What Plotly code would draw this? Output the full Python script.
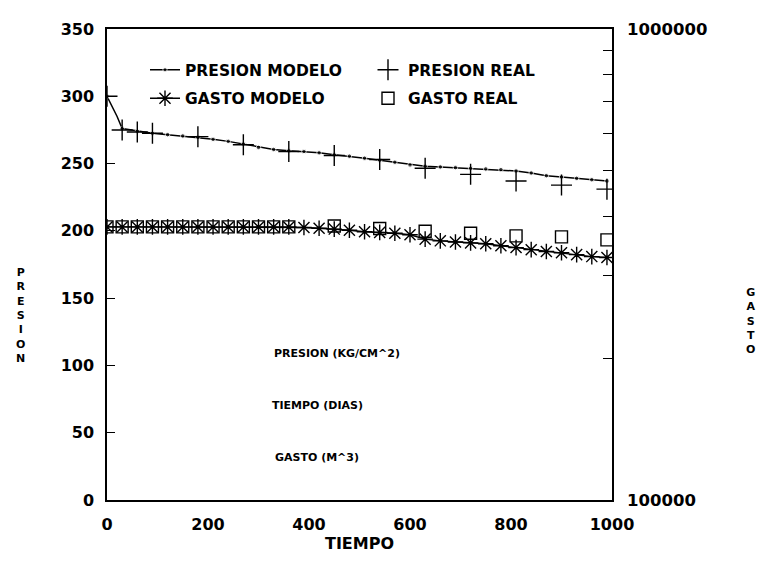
import plotly.graph_objects as go

# ---------------- data ----------------
t_model = [0, 10, 20, 30, 60, 90, 120, 150, 180, 210, 240, 270, 300, 330, 360, 390, 420,
           450, 480, 510, 540, 570, 600, 630, 660, 690, 720, 750, 780, 810, 840, 870,
           900, 930, 960, 990]
presion_modelo = [300, 292.5, 285, 276, 274, 272.5, 271.5, 270.5, 269.5, 268, 266.5, 264.5,
                  262, 260.5, 259.5, 259, 258, 256.5, 255.5, 254, 252.5, 251, 249, 248,
                  247.5, 247, 246.5, 246, 245.5, 244.5, 243, 241, 240, 239, 238, 237]

t_presion_real = [0, 30, 60, 90, 180, 270, 360, 450, 540, 630, 720, 810, 900, 990]
presion_real = [300, 275, 273.5, 272.5, 270, 264, 259, 256, 253, 246.5, 242, 237, 234, 231]

t_gasto_modelo = [0, 30, 60, 90, 120, 150, 180, 210, 240, 270, 300, 330, 360, 390, 420,
                  450, 480, 510, 540, 570, 600, 630, 660, 690, 720, 750, 780, 810, 840,
                  870, 900, 930, 960, 990]
gasto_modelo = [380000, 380000, 380000, 380000, 380000, 380000, 380000, 380000, 380000,
                380000, 380000, 380000, 380000, 379000, 377600, 376000, 374000, 371000,
                370000, 368500, 365700, 358000, 355000, 353000, 351500, 350000, 346600,
                343500, 340000, 337000, 335000, 331900, 328700, 327200]

t_gasto_real = [0, 30, 60, 90, 120, 150, 180, 210, 240, 270, 300, 330, 360, 450, 540, 630,
                720, 810, 900, 990]
gasto_real = [380000, 380000, 380000, 380000, 380000, 380000, 380000, 380000, 380000,
              380000, 380000, 380000, 380000, 381800, 377000, 372000, 368500, 363700,
              362000, 356600]

x_ticks = [0, 200, 400, 600, 800, 1000]
y_ticks = [0, 50, 100, 150, 200, 250, 300, 350]
y2_ticks = [100000, 200000, 300000, 400000, 500000, 600000, 700000, 800000, 900000, 1000000]
y2_labels = ["100000", "", "", "", "", "", "", "", "", "1000000"]

notes = ["PRESION (KG/CM^2)", "TIEMPO (DIAS)", "GASTO (M^3)"]
note_x = [326, 322, 329]
note_y = [108.5, 70, 31.5]

left_title = "PRESION"
right_title = "GASTO"

# ---------------- figure ----------------
FONT = "DejaVu Sans"
BLACK = "#000000"
W, H = 774, 566
PAGE = 8                      # browser body margin around the plot div
ML, MT = 99, 12
PW, PH = 505, 480
MR, MB = W - ML - PW, H - MT - PH


def paper_x(sx):              # screen pixel -> paper fraction
    return (sx - PAGE - ML) / PW


def paper_y(sy):
    return 1 - (sy - PAGE - MT) / PH


fig = go.Figure()

fig.add_trace(go.Scatter(
    x=t_model, y=presion_modelo, mode="lines+markers", name="PRESION MODELO",
    line=dict(color=BLACK, width=1.5),
    marker=dict(color=BLACK, size=[4.5 if t % 30 == 0 else 0 for t in t_model], symbol="circle"),
    legend="legend",
))
fig.add_trace(go.Scatter(
    x=t_presion_real, y=presion_real, mode="markers", name="PRESION REAL",
    marker=dict(symbol="cross-thin", size=15, line=dict(color=BLACK, width=1.4)),
    legend="legend",
))
fig.add_trace(go.Scatter(
    x=t_gasto_modelo, y=gasto_modelo, mode="lines+markers", name="GASTO MODELO",
    yaxis="y2",
    line=dict(color=BLACK, width=1.4),
    marker=dict(symbol="asterisk-open", size=13, line=dict(color=BLACK, width=1.4)),
    legend="legend2",
))
fig.add_trace(go.Scatter(
    x=t_gasto_real, y=gasto_real, mode="markers", name="GASTO REAL",
    yaxis="y2",
    marker=dict(symbol="square-open", size=12, color=BLACK, line=dict(color=BLACK, width=1.4)),
    legend="legend2",
))

for txt, xx, yy in zip(notes, note_x, note_y):
    fig.add_annotation(x=xx, y=yy, xref="x", yref="y", text=txt, showarrow=False,
                       xanchor="left", yanchor="middle",
                       font=dict(family=FONT, size=11, color=BLACK, weight="bold"))

# stacked vertical axis titles (one letter per line)
for word, sx, sy in [(left_title, 20, 312), (right_title, 750, 318)]:
    fig.add_annotation(x=paper_x(sx), y=paper_y(sy), xref="paper", yref="paper",
                       text="<br>".join(list(word)), showarrow=False,
                       xanchor="center", yanchor="middle", align="center",
                       font=dict(family=FONT, size=11, color=BLACK, weight="bold"))

tick_font = dict(family=FONT, size=16, color=BLACK, weight="bold")
leg_font = dict(family=FONT, size=15.5, color=BLACK, weight="bold")

fig.update_layout(
    width=W, height=H,
    margin=dict(l=ML, r=MR, t=MT, b=MB),
    paper_bgcolor="white", plot_bgcolor="white",
    showlegend=True,
    xaxis=dict(range=[0, 1000], tickvals=x_ticks, ticks="", showgrid=False, zeroline=False,
               showline=True, linecolor=BLACK, linewidth=1.5, mirror=True,
               tickfont=tick_font, ticklabelstandoff=9,
               title=dict(text="TIEMPO", font=dict(family=FONT, size=16, color=BLACK, weight="bold"),
                          standoff=4)),
    yaxis=dict(range=[0, 350], tickvals=y_ticks, ticks="inside", ticklen=8, tickwidth=1.3,
               tickcolor=BLACK, showgrid=False, zeroline=False,
               showline=True, linecolor=BLACK, linewidth=1.5,
               tickfont=tick_font, ticklabelstandoff=8),
    yaxis2=dict(type="log", range=[5, 6], overlaying="y", side="right",
                tickvals=y2_ticks, ticktext=y2_labels, ticks="inside", ticklen=9, tickwidth=1.3,
                tickcolor=BLACK, showgrid=False, zeroline=False,
                showline=True, linecolor=BLACK, linewidth=1.5,
                tickfont=dict(family=FONT, size=16.5, color=BLACK, weight="bold"),
                ticklabelstandoff=10),
    legend=dict(orientation="h", x=paper_x(145), y=paper_y(62),
                xanchor="left", yanchor="middle",
                font=leg_font, entrywidth=178, entrywidthmode="pixels",
                bgcolor="rgba(0,0,0,0)", itemclick=False),
    legend2=dict(orientation="h", x=paper_x(145), y=paper_y(91),
                 xanchor="left", yanchor="middle",
                 font=leg_font, entrywidth=178, entrywidthmode="pixels",
                 bgcolor="rgba(0,0,0,0)", itemclick=False),
)

fig.write_html("out.html")
